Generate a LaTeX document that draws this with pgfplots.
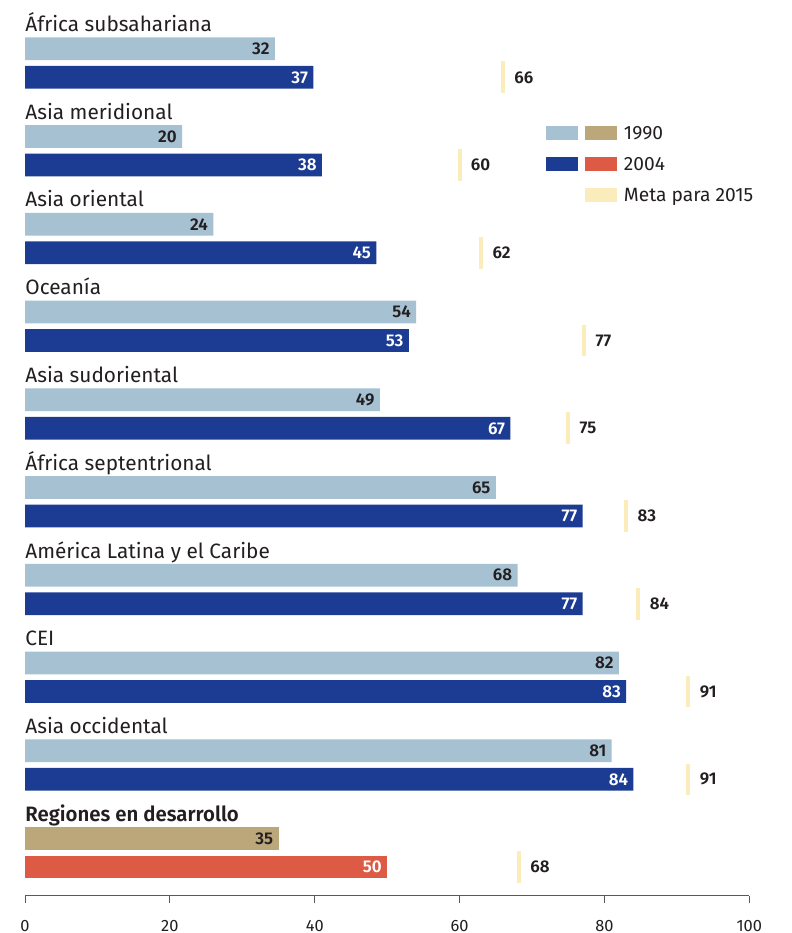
\documentclass[border=0pt]{standalone}
\usepackage{pgfplots}
\pgfplotsset{compat=1.18}
\usepackage{pgfplotstable}
\usepackage{fontspec}
\setmainfont{Fira Sans}[BoldFont={Fira Sans SemiBold}]
\definecolor{light}{HTML}{A5C1D2}
\definecolor{dark}{HTML}{1B3C92}
\definecolor{tan}{HTML}{BCA77A}
\definecolor{devred}{HTML}{DD5A44}
\definecolor{goal}{HTML}{FBEDBB}
\definecolor{txt}{HTML}{231F20}
\definecolor{axisgray}{HTML}{58595B}
\newcommand\numfont{\bfseries\fontsize{8.5}{10}\selectfont}
\newcommand\titlefont{\fontsize{10.4}{12}\selectfont}

\pgfplotstableread{
x y l
34.5 -48.7 32
21.7 -136.45 20
26.0 -224.2 24
54 -311.95 54
49 -399.7 49
65 -487.45 65
68 -575.2 68
82 -662.95 82
81 -750.7 81
}\lightdata
\pgfplotstableread{
x y l
39.8 -77.3 37
41.0 -165.05 38
48.5 -252.8 45
53 -340.55 53
67 -428.3 67
77 -516.05 77
77 -603.8 77
83 -691.55 83
84 -779.3 84
}\darkdata
\pgfplotstableread{
x y l
35 -838.45 35
}\devninety
\pgfplotstableread{
x y l
50 -867.05 50
}\devfour
\pgfplotstableread{
x y l
66 -77.3 66
60 -165.05 60
63 -252.8 62
77.2 -340.55 77
75 -428.3 75
83 -516.05 83
84.7 -603.8 84
91.6 -691.55 91
91.6 -779.3 91
68.2 -867.05 68
}\goaldata

\pgfplotsset{
  mybar/.style={xbar, bar width=11.35pt, bar shift=0pt, draw=none, fill=#1, forget plot,
    nodes near coords, point meta=explicit,
    every node near coord/.append style={anchor=east, font=\numfont, inner sep=0pt, xshift=-2.5pt}},
}

\begin{document}
\begin{tikzpicture}
\begin{axis}[
  x=3.6215pt, y=0.5pt,
  xmin=0, xmax=100, ymin=-895.7, ymax=0,
  axis x line=bottom, axis y line=none,
  x axis line style={-, draw=axisgray, line width=0.5pt},
  xtick={0,20,...,100}, ytick=\empty,
  xtick align=outside, major tick length=3.85pt,
  tick style={draw=axisgray, line width=0.5pt},
  xticklabel style={font=\fontsize{8.2}{9}\selectfont, text=txt, inner sep=0pt, yshift=-8.3pt},
  /pgf/number format/assume math mode=true,
  clip=false,
  legend style={at={(axis cs:71.93,-126)}, anchor=north west, draw=none, fill=none,
    inner sep=0pt, outer sep=0pt, row sep=8.5pt, column sep=3.65pt,
    nodes={inner sep=0pt, text depth=0pt, text height=7pt, font=\fontsize{9.6}{11}\selectfont, text=txt},
    cells={anchor=west}},
  legend cell align=left,
]
\addplot[mybar=light, every node near coord/.append style={text=txt}] table[x=x,y=y,meta=l]{\lightdata};
\addplot[mybar=dark, every node near coord/.append style={text=white}] table[x=x,y=y,meta=l]{\darkdata};
\addplot[mybar=tan, every node near coord/.append style={text=txt}] table[x=x,y=y,meta=l]{\devninety};
\addplot[mybar=devred, every node near coord/.append style={text=white}] table[x=x,y=y,meta=l]{\devfour};
\addplot[only marks, mark=|, color=goal, mark size=7.9pt, mark options={line width=2pt}, forget plot,
  nodes near coords, point meta=explicit,
  every node near coord/.append style={anchor=west, text=txt, font=\numfont, inner sep=0pt, xshift=4.7pt}]
  table[x=x,y=y,meta=l]{\goaldata};

\addlegendimage{legend image code/.code={\fill[light,draw=none] (0pt,-3.5pt) rectangle (15.85pt,3.5pt); \fill[tan,draw=none] (19.5pt,-3.5pt) rectangle (35.35pt,3.5pt);}}
\addlegendentry{1990}
\addlegendimage{legend image code/.code={\fill[dark,draw=none] (0pt,-3.5pt) rectangle (15.85pt,3.5pt); \fill[devred,draw=none] (19.5pt,-3.5pt) rectangle (35.35pt,3.5pt);}}
\addlegendentry{2004}
\addlegendimage{legend image code/.code={\path[draw=none,fill=none] (0pt,-3.5pt) rectangle (15.85pt,3.5pt); \fill[goal,draw=none] (19.5pt,-3.5pt) rectangle (35.35pt,3.5pt);}}
\addlegendentry{Meta para 2015}

\begin{scope}[every node/.style={anchor=base west, inner sep=0pt, font=\titlefont, text=txt}]
\node at (axis cs:0,-31.5) {África subsahariana};
\node at (axis cs:0,-119.25) {Asia meridional};
\node at (axis cs:0,-207) {Asia oriental};
\node at (axis cs:0,-294.75) {Oceanía};
\node at (axis cs:0,-382.5) {Asia sudoriental};
\node at (axis cs:0,-470.25) {África septentrional};
\node at (axis cs:0,-558) {América Latina y el Caribe};
\node at (axis cs:0,-645.75) {CEI};
\node at (axis cs:0,-733.5) {Asia occidental};
\node at (axis cs:0,-821.25) {\bfseries\addfontfeature{FakeStretch=0.98}Regiones en desarrollo};
\end{scope}
\path (axis cs:-3.452,0) rectangle (axis cs:105.89,-933);
\end{axis}
\end{tikzpicture}
\end{document}
